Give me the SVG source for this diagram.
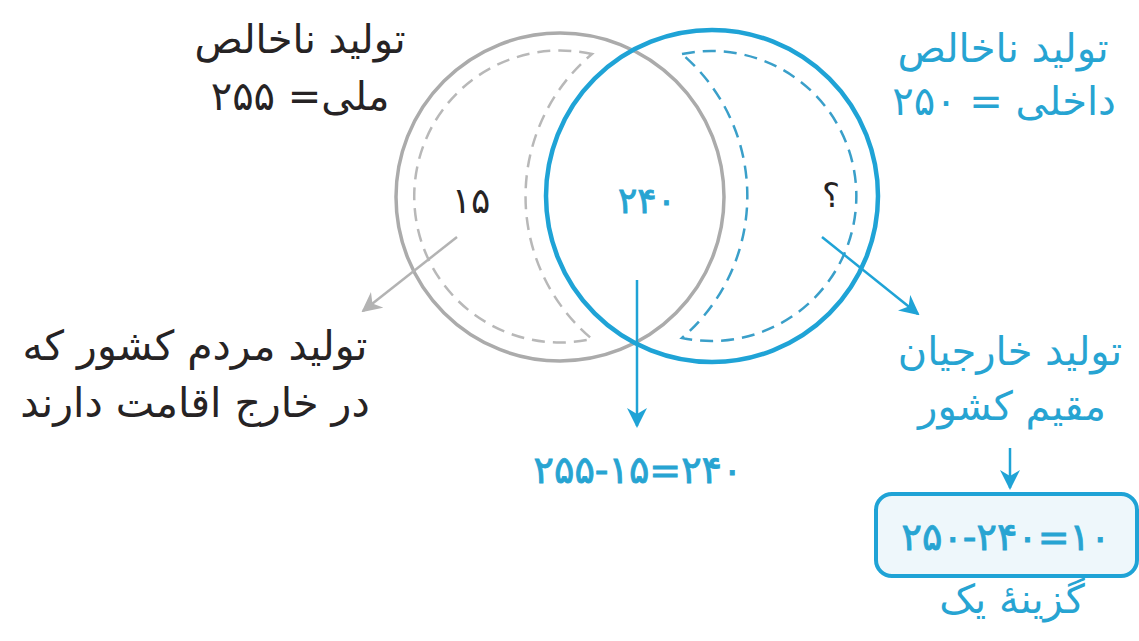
<svg xmlns="http://www.w3.org/2000/svg" width="1139" height="641" viewBox="0 0 1139 641">
<style>
.fa{font-family:"DejaVu Sans",sans-serif;direction:rtl;text-anchor:middle}
.eq{font-family:"DejaVu Sans",sans-serif;text-anchor:middle;direction:ltr}
.num{stroke-width:0.9;letter-spacing:1.5px}
.dark{fill:#262324}
.blue{fill:#27a4d2}
.blue.num{stroke:#27a4d2}
.dark.num{stroke:#262324}
.grey-c{fill:none;stroke:#ababab;stroke-width:3.5}
.blue-c{fill:none;stroke:#1fa3d6;stroke-width:4.5}
.gdash{fill:none;stroke:#b8b8b8;stroke-width:2.5;stroke-dasharray:13 8}
.bdash{fill:none;stroke:#3a9fc9;stroke-width:2.5;stroke-dasharray:13 8}
.garrow{stroke:#b3b3b3;stroke-width:2.5;fill:none}
.barrow{stroke:#1fa3d6;stroke-width:2.5;fill:none}
</style>
<defs>
<marker id="mg" viewBox="0 0 10 10" refX="9" refY="5" markerWidth="8" markerHeight="8" markerUnits="strokeWidth" orient="auto">
<path d="M0,0 L10,5 L0,10 L3,5 Z" fill="#b3b3b3"/>
</marker>
<marker id="mb" viewBox="0 0 10 10" refX="9" refY="5" markerWidth="8" markerHeight="8" markerUnits="strokeWidth" orient="auto">
<path d="M0,0 L10,5 L0,10 L3,5 Z" fill="#1fa3d6"/>
</marker>
</defs>
<rect width="1139" height="641" fill="#ffffff"/>

<g id="gnp">
<circle class="grey-c" cx="560" cy="197" r="164"/>
<path class="gdash" d="M592 54 A146 146 0 1 0 592 339 A186 186 0 0 1 592 54 Z"/>
<text class="fa dark" x="300" y="53" font-size="40">تولید ناخالص</text>
<text class="fa dark" x="300" y="110" font-size="40">ملی= ۲۵۵</text>
<text class="eq dark" x="471" y="213" font-size="36">۱۵</text>
</g>

<g id="gdp">
<circle class="blue-c" cx="712" cy="196" r="166"/>
<path class="bdash" d="M682 54 A145 145 0 1 1 682 338 A187 187 0 0 0 682 54 Z"/>
<text class="fa blue" x="1003" y="62" font-size="40">تولید ناخالص</text>
<text class="fa blue" x="1004" y="115" font-size="40">داخلی = ۲۵۰</text>
<text class="eq blue num" x="647" y="213" font-size="36">۲۴۰</text>
<text class="eq dark" x="831" y="207" font-size="34">؟</text>
</g>

<g id="abroad">
<text class="fa dark" x="195" y="360" font-size="41">تولید مردم کشور که</text>
<text class="fa dark" x="195" y="417" font-size="41">در خارج اقامت دارند</text>
</g>

<g id="calc240">
<text class="eq blue num" x="638" y="483" font-size="38">۲۵۵-۱۵=۲۴۰</text>
</g>

<g id="foreign">
<text class="fa blue" x="1010" y="365" font-size="40">تولید خارجیان</text>
<text class="fa blue" x="1012" y="420" font-size="40">مقیم کشور</text>
</g>

<g id="answer">
<rect x="876" y="494" width="261" height="82" rx="16" fill="#eef7fb" stroke="#1fa3d6" stroke-width="4"/>
<text class="eq blue num" x="1006" y="550" font-size="38">۲۵۰-۲۴۰=۱۰</text>
<text class="fa blue" x="1012" y="613" font-size="40">گزینهٔ یک</text>
</g>

<g id="connectors">
<line class="garrow" x1="457" y1="237" x2="363" y2="311" marker-end="url(#mg)"/>
<line class="barrow" x1="637" y1="280" x2="637" y2="426" marker-end="url(#mb)"/>
<line class="barrow" x1="822" y1="237" x2="918" y2="314" marker-end="url(#mb)"/>
<line class="barrow" x1="1010" y1="448" x2="1010" y2="488" marker-end="url(#mb)"/>
</g>
</svg>
